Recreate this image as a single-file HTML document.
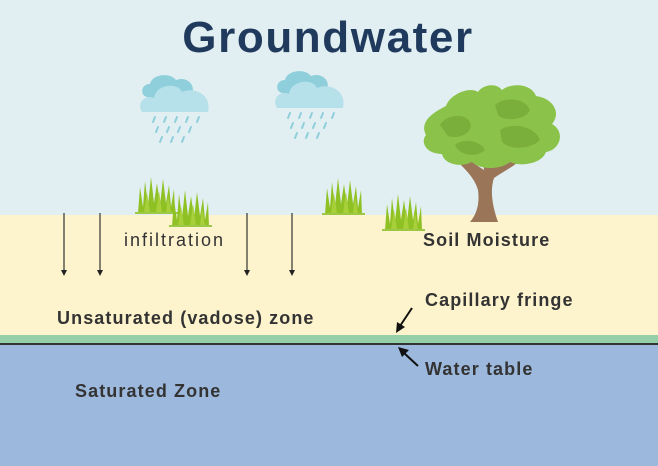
<!DOCTYPE html>
<html><head><meta charset="utf-8"><style>
html,body{margin:0;padding:0;width:658px;height:466px;overflow:hidden;background:#e2eff2}
svg{display:block}
</style></head><body>
<svg width="658" height="466" viewBox="0 0 658 466" xmlns="http://www.w3.org/2000/svg">
<defs>
<g id="grass">
<path d="M0,36 L2,10 L5,30 L7,4 L10,28 L13,0 L16,26 L19,6 L22,28 L25,2 L28,26 L31,8 L33,30 L36,12 L37,36 Z" fill="#8fc125"/>
<path d="M6,36 L9,16 L12,36 M18,36 L21,14 L24,36 M28,36 L30,18 L33,36" fill="#a8d03a"/>
<rect x="-3" y="35" width="43" height="2" fill="#9cc845"/>
</g>
<g id="cloud">
<path d="M8,25 C0,25 0,12 10,12 C12,2 30,0 36,8 C46,4 56,12 52,22 C58,22 62,30 58,33 L8,33 Z" fill="#8fcfdc"/>
<path d="M2,40 C-4,30 6,22 14,26 C16,12 38,10 42,20 C56,14 72,24 68,40 Z" fill="#b6e1ea"/>
<g stroke="#8fcfdc" stroke-width="2" stroke-linecap="round">
<line x1="15" y1="45" x2="13" y2="50"/><line x1="26" y1="45" x2="24" y2="50"/><line x1="37" y1="45" x2="35" y2="50"/><line x1="48" y1="45" x2="46" y2="50"/><line x1="59" y1="45" x2="57" y2="50"/>
<line x1="18" y1="55" x2="16" y2="60"/><line x1="29" y1="55" x2="27" y2="60"/><line x1="40" y1="55" x2="38" y2="60"/><line x1="51" y1="55" x2="49" y2="60"/>
<line x1="22" y1="65" x2="20" y2="70"/><line x1="33" y1="65" x2="31" y2="70"/><line x1="44" y1="65" x2="42" y2="70"/>
</g>
</g>
</defs>
<rect x="0" y="0" width="658" height="215" fill="#e2eff2"/>
<rect x="0" y="215" width="658" height="120" fill="#fdf3cc"/>
<rect x="0" y="335" width="658" height="8" fill="#95cfa8"/>
<rect x="0" y="343" width="658" height="2" fill="#333"/>
<rect x="0" y="345" width="658" height="121" fill="#9cb8dc"/>
<text x="328" y="52" text-anchor="middle" font-family="Liberation Sans, sans-serif" font-weight="bold" font-size="44" letter-spacing="1.6" fill="#1f3a5c">Groundwater</text>
<use href="#cloud" x="140" y="72"/>
<use href="#cloud" x="275" y="68"/>
<path d="M470,222 L498,222 C492,205 490,190 494,178 C505,170 520,164 528,152 L518,152 C510,160 500,165 492,168 L490,150 L482,150 L484,170 C476,165 466,158 458,150 L448,152 C460,165 474,175 478,190 C480,205 476,215 470,222 Z" fill="#9a7558"/>
<path d="M426,135 C418,120 438,110 446,106 C450,94 470,86 478,92 C482,85 496,82 502,90 C512,82 532,84 536,96 C552,98 562,112 552,124 C566,132 560,150 546,152 C542,164 520,167 510,162 C500,170 480,170 472,162 C460,168 444,164 442,154 C426,154 420,142 426,135 Z" fill="#8bc34a"/>
<path d="M440,125 C445,115 465,112 470,122 C474,132 460,140 448,136 Z M495,105 C505,96 525,98 530,110 C526,120 505,122 498,115 Z M500,130 C512,122 535,126 540,140 C530,150 510,150 502,142 Z M455,145 C462,138 480,140 485,150 C476,158 460,156 455,145 Z" fill="#7aaf3c"/>
<use href="#grass" x="138" y="177"/>
<use href="#grass" x="172" y="190"/>
<use href="#grass" x="325" y="178"/>
<use href="#grass" x="385" y="194"/>
<g stroke="#333" stroke-width="1.2">
<line x1="64" y1="213" x2="64" y2="272"/><line x1="100" y1="213" x2="100" y2="272"/><line x1="247" y1="213" x2="247" y2="272"/><line x1="292" y1="213" x2="292" y2="272"/>
</g>
<g fill="#222">
<path d="M61,270 L67,270 L64,276 Z"/><path d="M97,270 L103,270 L100,276 Z"/><path d="M244,270 L250,270 L247,276 Z"/><path d="M289,270 L295,270 L292,276 Z"/>
</g>
<g font-family="Liberation Sans, sans-serif" font-size="18" fill="#333">
<text x="124" y="246" letter-spacing="2.0">infiltration</text>
<g font-weight="bold" letter-spacing="1.1">
<text x="423" y="246">Soil Moisture</text>
<text x="425" y="306">Capillary fringe</text>
<text x="57" y="324">Unsaturated (vadose) zone</text>
<text x="425" y="375">Water table</text>
<text x="75" y="397">Saturated Zone</text>
</g>
</g>
<g stroke="#111" stroke-width="2">
<line x1="412" y1="308" x2="400" y2="326"/>
<line x1="418" y1="366" x2="404" y2="353"/>
</g>
<path d="M396,333 L397,322 L405,327 Z" fill="#111"/>
<path d="M398,347 L409,350 L402,357 Z" fill="#111"/>
</svg>
</body></html>
